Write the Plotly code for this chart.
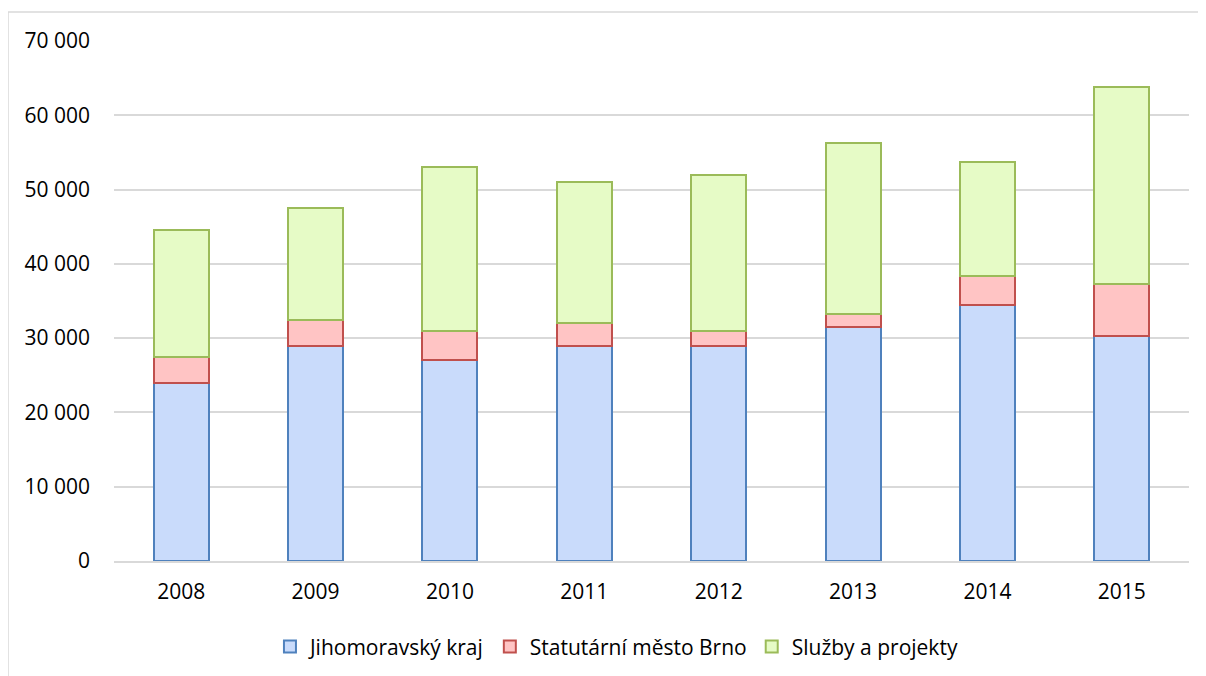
import plotly.graph_objects as go

# Data
years = ['2008', '2009', '2010', '2011', '2012', '2013', '2014', '2015']
jihomoravsky = [24000, 29000, 27000, 29000, 29000, 31500, 34500, 30300]
brno = [3500, 3500, 4000, 3000, 2000, 1800, 3900, 7000]
sluzby = [17000, 15000, 22000, 19000, 21000, 23000, 15300, 26500]

# Office-like colours
BLUE_FILL, BLUE_LINE = '#C9DBFB', '#4F81BD'
RED_FILL, RED_LINE = '#FFC4C4', '#C0504D'
GREEN_FILL, GREEN_LINE = '#E6FBC6', '#9BBB59'
GRID = '#D9D9D9'
FONT = 'Open Sans'

fig = go.Figure()
series = [
    ('Jihomoravský kraj', jihomoravsky, BLUE_FILL, BLUE_LINE),
    ('Statutární město Brno', brno, RED_FILL, RED_LINE),
    ('Služby a projekty', sluzby, GREEN_FILL, GREEN_LINE),
]
for name, vals, fill, line in series:
    fig.add_trace(go.Bar(
        x=years, y=vals, name=name,
        marker=dict(color=fill, line=dict(color=line, width=2)),
    ))

# page body has an 8px margin, so offsets are shifted by 8px
fig.update_layout(
    barmode='stack',
    bargap=0.59,
    width=1206, height=676,
    margin=dict(l=106, r=25, t=33, b=123),
    paper_bgcolor='white',
    plot_bgcolor='white',
    separators=', ',
    font=dict(family=FONT, size=21, color='#000000'),
    xaxis=dict(
        showgrid=False,
        showline=True, linecolor=GRID, linewidth=1.5,
        ticks='', ticklabelstandoff=11,
        tickfont=dict(size=21),
    ),
    yaxis=dict(
        range=[0, 70000], dtick=10000,
        tickformat=',d',
        showgrid=True, gridcolor=GRID, gridwidth=1.5,
        zeroline=False, showline=False,
        ticks='', ticklabelstandoff=23,
        tickfont=dict(size=21),
    ),
    legend=dict(
        orientation='h', x=0.4674, xanchor='center', y=-0.165, yanchor='middle',
        font=dict(size=21), traceorder='normal',
        itemwidth=30,
    ),
    shapes=[dict(
        type='rect', xref='paper', yref='paper',
        x0=-0.0986, x1=1.05, y0=-0.26, y1=1.0558,
        line=dict(color=GRID, width=1.5), fillcolor='rgba(0,0,0,0)', layer='below',
    )],
)

fig.write_html('out.html')
